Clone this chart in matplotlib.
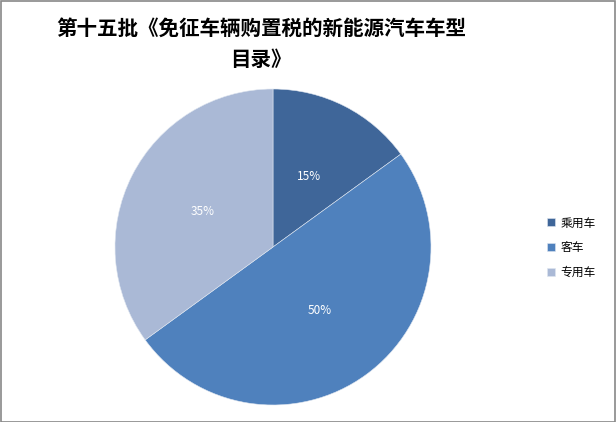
import matplotlib
matplotlib.use("Agg")
import matplotlib.pyplot as plt
from matplotlib.patches import Rectangle

plt.rcParams['font.family'] = ['Noto Sans CJK SC', 'DejaVu Sans']

# data
labels = ['乘用车', '客车', '专用车']
shares = [15, 50, 35]
colors = ['#3F6699', '#4F81BD', '#AAB9D6']
title = '第十五批《免征车辆购置税的新能源汽车车型\n目录》'

fig = plt.figure(figsize=(6.16, 4.22), dpi=100)
fig.patch.set_facecolor('white')

# pie area: center (273, 247), radius ~158 px
W, H = 616, 422
cx, cy, r = 273, 247, 158
ax = fig.add_axes([(cx - r) / W, 1 - (cy + r) / H, 2 * r / W, 2 * r / H])
wedges, texts, autotexts = ax.pie(shares, colors=colors, startangle=90,
                                  counterclock=False, autopct='%d%%',
                                  pctdistance=0.5,
                                  wedgeprops=dict(edgecolor='#dfe6f0', linewidth=0.4),
                                  textprops=dict(color='white', fontsize=8.5))
ax.set_xlim(-1, 1)
ax.set_ylim(-1, 1)
ax.set_aspect('equal')

fig.text(0.424, 0.958, title, ha='center', va='top', fontsize=14.8,
         fontweight='bold', linespacing=1.62, multialignment='center')

leg = fig.legend(wedges, labels, loc='center left',
                 bbox_to_anchor=(0.87, 0.413), frameon=False, fontsize=8.5,
                 handlelength=0.7, handleheight=0.7, labelspacing=1.0,
                 handletextpad=0.5)

fig.add_artist(Rectangle((0.001, 0.001), 0.997, 0.997, transform=fig.transFigure,
                         fill=False, edgecolor='#888888', linewidth=1.2))

fig.savefig('out.png', dpi=100)
